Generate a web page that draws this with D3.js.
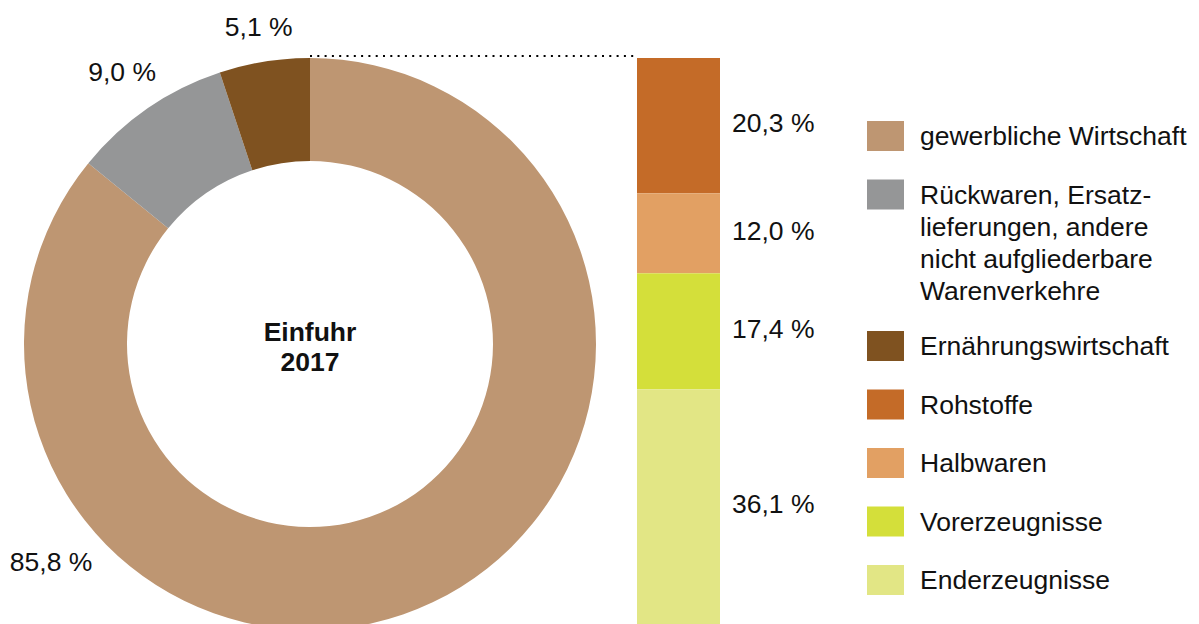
<!DOCTYPE html>
<html>
<head>
<meta charset="utf-8">
<script src="https://cdn.jsdelivr.net/npm/d3@7"></script>
<style>
    body { margin: 0; background: #fff; }
    svg { display: block; font-family: Arial, "Liberation Sans", Helvetica, sans-serif; }
</style>
</head>
<body>
<div id="chart"></div>
<script>
// Donut: Einfuhr 2017 by Warengruppe
const donutNames = ["gewerbliche Wirtschaft", "Rückwaren, Ersatzlieferungen", "Ernährungswirtschaft"];
const donutValues = [85.8, 9.0, 5.1];
const donutColors = ["#be9672", "#959697", "#7f5220"];

// Bar: breakdown of gewerbliche Wirtschaft
const barNames = ["Rohstoffe", "Halbwaren", "Vorerzeugnisse", "Enderzeugnisse"];
const barValues = [20.3, 12.0, 17.4, 36.1];
const barColors = ["#c46b28", "#e2a063", "#d4df3a", "#e2e685"];

// Legend
const legendLabels = [
    ["gewerbliche Wirtschaft"],
    ["Rückwaren, Ersatz-", "lieferungen, andere", "nicht aufgliederbare", "Warenverkehre"],
    ["Ernährungswirtschaft"],
    ["Rohstoffe"],
    ["Halbwaren"],
    ["Vorerzeugnisse"],
    ["Enderzeugnisse"]
];
const legendColors = donutColors.concat(barColors);

const centerTitle = ["Einfuhr", "2017"];

const fmt = v => v.toFixed(1).replace(".", ",") + " %";

const width = 1199, height = 624;
const cx = 310, cy = 344, outerR = 286, innerR = 183;
const textColor = "#111";
const fontSize = 26.5;

const svg = d3.select("#chart").append("svg")
    .attr("width", width)
    .attr("height", height);

// Donut
const pie = d3.pie().value(d => d).sort(null);
const arc = d3.arc().innerRadius(innerR).outerRadius(outerR);
const arcs = pie(donutValues);

const donut = svg.append("g").attr("transform", `translate(${cx},${cy})`);

donut.selectAll("path")
    .data(arcs)
    .enter().append("path")
    .attr("d", arc)
    .attr("fill", (d, i) => donutColors[i]);

// donut labels: small slices sit outside their middle, the big one lower left
const labelRadius = [338, 331, 321];
donut.selectAll("text.val")
    .data(arcs)
    .enter().append("text")
    .attr("class", "val")
    .attr("transform", (d, i) => {
        let a = i === 0 ? 230 * Math.PI / 180 : (d.startAngle + d.endAngle) / 2;
        let r = labelRadius[i];
        return `translate(${r * Math.sin(a)},${-r * Math.cos(a)})`;
    })
    .attr("text-anchor", "middle")
    .attr("dy", "0.35em")
    .attr("font-size", fontSize)
    .attr("fill", textColor)
    .text(d => fmt(d.data));

donut.append("text")
    .attr("text-anchor", "middle")
    .attr("font-size", fontSize)
    .attr("font-weight", "bold")
    .attr("fill", textColor)
    .selectAll("tspan")
    .data(centerTitle)
    .enter().append("tspan")
    .attr("x", 0)
    .attr("y", (d, i) => -3 + i * 30)
    .text(d => d);

// Stacked bar
const barX = 637, barW = 83;
const y = d3.scaleLinear()
    .domain([0, d3.sum(barValues)])
    .range([cy - outerR, cy + outerR]);

let cum = 0;
const stacked = barValues.map((v, i) => {
    let s = { name: barNames[i], value: v, y0: cum, y1: cum + v, color: barColors[i] };
    cum += v;
    return s;
});

svg.selectAll("rect.seg")
    .data(stacked)
    .enter().append("rect")
    .attr("class", "seg")
    .attr("x", barX)
    .attr("width", barW)
    .attr("y", d => y(d.y0))
    .attr("height", d => y(d.y1) - y(d.y0))
    .attr("fill", d => d.color);

svg.selectAll("text.seg")
    .data(stacked)
    .enter().append("text")
    .attr("class", "seg")
    .attr("x", barX + barW + 12)
    .attr("y", d => Math.min((y(d.y0) + y(d.y1)) / 2, (y(d.y0) + height) / 2) - 3)
    .attr("dy", "0.35em")
    .attr("font-size", fontSize)
    .attr("fill", textColor)
    .text(d => fmt(d.value));

// dotted connector
svg.append("line")
    .attr("x1", cx)
    .attr("x2", barX + 1)
    .attr("y1", cy - outerR - 2)
    .attr("y2", cy - outerR - 2)
    .attr("stroke", "#000")
    .attr("stroke-width", 2)
    .attr("stroke-dasharray", "2,5.3");

// Legend
const legend = svg.append("g").attr("transform", "translate(867,0)");
let ly = 121;
legendLabels.forEach((lines, i) => {
    let g = legend.append("g").attr("transform", `translate(0,${ly})`);
    g.append("rect")
        .attr("width", 37)
        .attr("height", 30)
        .attr("fill", legendColors[i]);
    let t = g.append("text")
        .attr("font-size", fontSize)
        .attr("fill", textColor);
    lines.forEach((line, j) => {
        t.append("tspan")
            .attr("x", 53)
            .attr("y", 24 + j * 32)
            .text(line);
    });
    ly += 58.5 + (lines.length - 1) * 31;
});
</script>
</body>
</html>
